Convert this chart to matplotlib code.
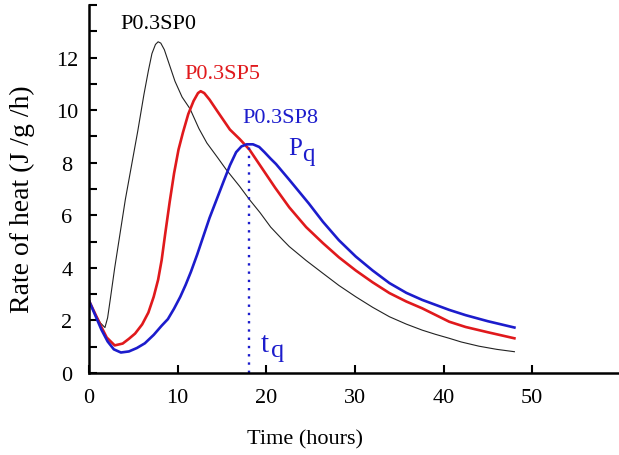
import numpy as np
import matplotlib
matplotlib.use("Agg")
import matplotlib.pyplot as plt
from matplotlib.ticker import MultipleLocator

# heat flow curves (time in hours, rate in J/g/h)
sp0_t = [0, 0.7, 1.3, 1.8, 2.1, 2.4, 2.9, 3.5, 4.1, 4.8, 5.5, 6.2, 6.7, 7.1, 7.5, 7.8, 8.1, 8.5, 9.0, 9.7,
         10.5, 11.4, 12.4, 13.3, 14.5, 15.5, 17.0, 18.1, 19.3, 20.5, 21.9, 22.6, 24.5, 26.4, 28.2,
         30.1, 32.0, 33.9, 35.8, 37.6, 39.1, 40.65, 42.0, 44.0, 46.0, 48.0]
sp0_q = [2.75, 2.25, 1.9, 1.73, 2.1, 2.8, 4.0, 5.3, 6.6, 7.9, 9.2, 10.6, 11.5, 12.15, 12.5, 12.6, 12.55, 12.3, 11.8, 11.1,
         10.5, 10.05, 9.3, 8.75, 8.2, 7.73, 7.1, 6.6, 6.1, 5.55, 5.05, 4.81, 4.28, 3.79, 3.33,
         2.9, 2.5, 2.14, 1.86, 1.63, 1.47, 1.32, 1.18, 1.02, 0.9, 0.81]

sp5_t = [0, 0.7, 1.4, 2.0, 2.9, 3.8, 4.5, 5.2, 6.0, 6.7, 7.3, 7.8, 8.2, 8.6, 9.1, 9.6, 10.1, 10.6,
         11.2, 11.8, 12.3, 12.6, 13.0, 13.6, 14.5, 15.9, 17.0, 18.1, 19.3, 21.0, 22.6, 24.5, 26.4,
         28.2, 30.1, 32.0, 33.9, 35.8, 37.6, 40.65, 42.5, 45.0, 48.0]
sp5_q = [2.75, 2.25, 1.75, 1.35, 1.05, 1.12, 1.3, 1.5, 1.85, 2.3, 2.9, 3.55, 4.3, 5.3, 6.5, 7.6, 8.5, 9.15,
         9.85, 10.35, 10.65, 10.72, 10.65, 10.4, 9.95, 9.26, 8.9, 8.5, 7.9, 7.05, 6.3, 5.55, 4.94,
         4.4, 3.9, 3.45, 3.04, 2.72, 2.46, 1.95, 1.75, 1.55, 1.32]

sp8_t = [0, 0.7, 1.4, 2.1, 2.8, 3.6, 4.5, 5.4, 6.3, 7.3, 8.2, 8.9, 9.6, 10.3, 10.9, 11.5, 12.2, 12.9,
         13.6, 14.4, 15.2, 15.9, 16.6, 17.2, 17.8, 18.5, 19.2, 19.8, 20.5, 21.1, 22.6, 24.8, 26.4,
         28.2, 30.1, 32.0, 33.9, 35.8, 37.6, 40.65, 42.5, 45.0, 48.0]
sp8_q = [2.75, 2.2, 1.65, 1.2, 0.9, 0.78, 0.82, 0.95, 1.13, 1.45, 1.8, 2.05, 2.45, 2.9, 3.35, 3.85, 4.5, 5.2,
         5.9, 6.6, 7.3, 7.9, 8.4, 8.62, 8.7, 8.7, 8.6, 8.4, 8.15, 7.95, 7.35, 6.45, 5.75,
         5.05, 4.43, 3.9, 3.42, 3.05, 2.78, 2.4, 2.2, 1.97, 1.73]

t_q = 18.1
p_q = 8.7

plt.rcParams['font.family'] = ['Liberation Serif', 'STIXGeneral', 'DejaVu Serif']

red = '#e0191c'
blue = '#1c1ccc'

fig = plt.figure(figsize=(6.19, 4.56), dpi=100)
ax = fig.add_axes([89/619, 82/456, 530/619, 368/456])

ax.plot(sp0_t, sp0_q, color='#222222', lw=0.8)
ax.plot(sp5_t, sp5_q, color=red, lw=1.9)
ax.plot(sp8_t, sp8_q, color=blue, lw=1.9)
ax.plot([t_q, t_q], [0, p_q], color=blue, lw=1.7, linestyle=(0, (1, 2.5)))

ax.text(7.83, 13.3, 'P0.3SP0', color='black', fontsize=16, ha='center', va='center')
ax.text(15.1, 11.4, 'P0.3SP5', color=red, fontsize=16, ha='center', va='center')
ax.text(21.57, 9.71, 'P0.3SP8', color=blue, fontsize=16, ha='center', va='center')
# P_q and t_q with full-size subscripts, as in the original
ax.text(22.5, 8.34, 'P', color=blue, fontsize=18, ha='left', va='baseline')
ax.text(24.05, 8.1, 'q', color=blue, fontsize=18, ha='left', va='baseline')
ax.text(19.35, 0.84, 't', color=blue, fontsize=21, ha='left', va='baseline')
ax.text(20.5, 0.64, 'q', color=blue, fontsize=19, ha='left', va='baseline')

ax.set_xlim(0, 59.8)
ax.set_ylim(0, 14)
ax.set_xticks([0, 10, 20, 30, 40, 50])
ax.set_yticks([0, 2, 4, 6, 8, 10, 12])
ax.yaxis.set_minor_locator(MultipleLocator(1))
ax.tick_params(which='both', direction='in', width=1.5, labelsize=16)
ax.tick_params(which='both', length=6)
ax.tick_params(axis='x', pad=11)
ax.tick_params(axis='y', pad=16)
for lab in ax.get_yticklabels():
    lab.set_horizontalalignment('center')

for s in ['top', 'right']:
    ax.spines[s].set_visible(False)
for s in ['left', 'bottom']:
    ax.spines[s].set_linewidth(1.8)

ax.set_xlabel('Time (hours)', fontsize=16)
ax.set_ylabel('Rate of heat (J /g /h)', fontsize=20)
ax.xaxis.set_label_coords(0.4075, -0.152)
ax.yaxis.set_label_coords(-0.102, 0.476)

fig.savefig('out.png', dpi=100)
